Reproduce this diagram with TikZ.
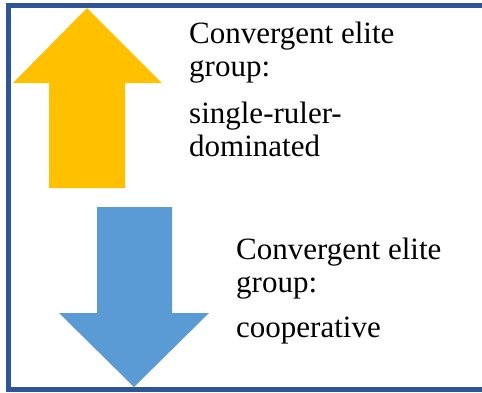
\documentclass[tikz,border=0pt]{standalone}
\usepackage{fontspec}
\setmainfont{Liberation Serif}
\definecolor{frameblue}{HTML}{2F5597}
\definecolor{upyellow}{HTML}{FFC000}
\definecolor{downblue}{HTML}{5B9BD5}

\begin{document}
\begin{tikzpicture}[x=1pt,y=-1pt,
    label/.style={anchor=base west,inner sep=0pt,align=left,
      font=\fontsize{31}{33}\selectfont}]

  \useasboundingbox (0,0) rectangle (482,392);
  \clip (0,0) rectangle (482,392);

  \draw[frameblue,line width=5pt] (8.5,5.5) rectangle (500,389.5);

  % upward arrow
  \coordinate (U) at (87,8);
  \fill[upyellow] (U) -- (162,83) -- (125,83) -- (125,188)
    -- (49,188) -- (49,83) -- (13,83) -- cycle;

  % downward arrow
  \coordinate (D) at (134,387);
  \fill[downblue] (D) -- (209,313) -- (172,313) -- (172,207)
    -- (97,207) -- (97,313) -- (59,313) -- cycle;

  % base anchor sits on the last line
  \node[label] (ruler) at (189,156)
    {Convergent elite\\group:\\[14pt]single-ruler-\\dominated};
  \node[label] (coop) at (236,337)
    {Convergent elite\\group:\\[12pt]cooperative};

\end{tikzpicture}
\end{document}
